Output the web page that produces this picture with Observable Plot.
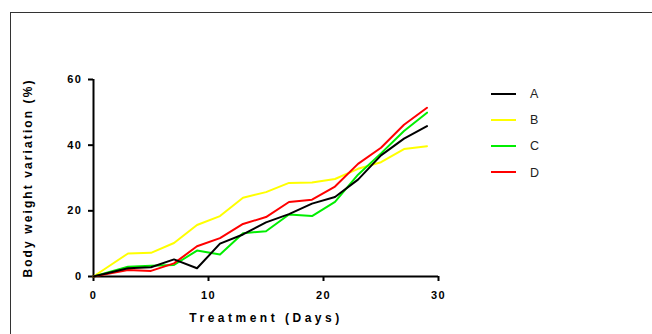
<!DOCTYPE html>
<html>
<head>
<meta charset="utf-8">
<script src="https://cdn.jsdelivr.net/npm/d3@7"></script>
<script src="https://cdn.jsdelivr.net/npm/@observablehq/plot@0.6"></script>
<style>
  html, body { margin: 0; padding: 0; background: #fff; }
  #wrap { position: relative; width: 652px; height: 334px; overflow: hidden; font-family: "Liberation Sans", Arial, sans-serif; }
  #frame { position: absolute; left: 10px; top: 12px; width: 700px; height: 400px; border-top: 1.5px solid #333; border-left: 1.5px solid #333; }
  #chart { position: absolute; left: 0; top: 0; }
  #chart svg g[aria-label="x-axis tick label"] text,
  #chart svg g[aria-label="y-axis tick label"] text { letter-spacing: 1.5px; }
  #chart svg g[aria-label="x-axis label"] text { letter-spacing: 3.5px; }
  #chart svg g[aria-label="y-axis label"] text { letter-spacing: 2.1px; }
  .leg { position: absolute; left: 491px; height: 20px; font-size: 12.5px; color: #222; }
  .leg .ln { position: absolute; left: 0; top: 9px; width: 25px; height: 2px; }
  .leg .lb { position: absolute; left: 39px; top: 3.5px; }
</style>
</head>
<body>
<div id="wrap">
  <div id="frame"></div>
  <div id="chart"></div>
</div>
<script>
const days = [0, 3, 5, 7, 9, 11, 13, 15, 17, 19, 21, 23, 25, 27, 29];
const seriesNames = ["A", "B", "C", "D"];
const seriesColors = ["#000000", "#ffff00", "#00ee00", "#ff0000"];
const valuesA = [0, 2.5, 2.8, 5.2, 2.5, 10.0, 12.8, 16.5, 19.0, 22.2, 24.2, 29.5, 36.9, 42.0, 45.8];
const valuesB = [0, 7.0, 7.2, 10.2, 15.7, 18.4, 24.0, 25.7, 28.5, 28.6, 29.7, 32.8, 34.8, 38.8, 39.7];
const valuesC = [0, 3.0, 3.3, 3.5, 7.9, 6.7, 13.2, 13.8, 18.9, 18.4, 22.7, 31.0, 37.5, 44.3, 49.9];
const valuesD = [0, 2.0, 1.7, 4.0, 9.2, 11.7, 16.0, 18.1, 22.7, 23.4, 27.4, 34.3, 39.2, 46.2, 51.4];
const xTicks = [0, 10, 20, 30];
const yTicks = [0, 20, 40, 60];

const allValues = { A: valuesA, B: valuesB, C: valuesC, D: valuesD };
const drawOrder = ["B", "C", "D", "A"];
const rows = [];
for (const s of drawOrder) {
  allValues[s].forEach((v, i) => rows.push({ series: s, day: days[i], value: v }));
}

const chart = Plot.plot({
  width: 652,
  height: 334,
  marginLeft: 93,
  marginRight: 214,
  marginTop: 79,
  marginBottom: 58,
  style: { fontFamily: "'Liberation Sans', Arial, sans-serif", background: "transparent", overflow: "visible" },
  x: { domain: [0, 30] },
  y: { domain: [0, 60] },
  color: { domain: seriesNames, range: seriesColors },
  marks: [
    Plot.axisX({
      ticks: xTicks, tickSize: 5, strokeWidth: 2, tickPadding: 10,
      fontSize: 11, fontWeight: "bold", color: "#000",
      label: "Treatment (Days)", labelAnchor: "center", labelArrow: "none", labelOffset: 45
    }),
    Plot.axisY({
      ticks: yTicks, tickSize: 5, strokeWidth: 2, tickPadding: 6,
      fontSize: 11, fontWeight: "bold", color: "#000",
      label: "Body weight variation (%)", labelAnchor: "center", labelArrow: "none", labelOffset: 70
    }),
    Plot.ruleY([0], { stroke: "#000", strokeWidth: 2 }),
    Plot.ruleX([0], { stroke: "#000", strokeWidth: 2 }),
    Plot.line(rows, { x: "day", y: "value", z: "series", stroke: "series", strokeWidth: 2, curve: "linear" })
  ]
});
chart.querySelectorAll('g[aria-label="x-axis label"] text, g[aria-label="y-axis label"] text').forEach(t => {
  t.setAttribute("font-weight", "bold");
  t.setAttribute("font-size", 12);
  t.setAttribute("fill", "#000");
});
document.getElementById("chart").appendChild(chart);

const wrap = document.getElementById("wrap");
seriesNames.forEach((s, i) => {
  const d = document.createElement("div");
  d.className = "leg";
  d.style.top = (83.5 + i * 26.2) + "px";
  d.innerHTML = `<div class="ln" style="background:${seriesColors[i]}"></div><div class="lb">${s}</div>`;
  wrap.appendChild(d);
});
</script>
</body>
</html>
